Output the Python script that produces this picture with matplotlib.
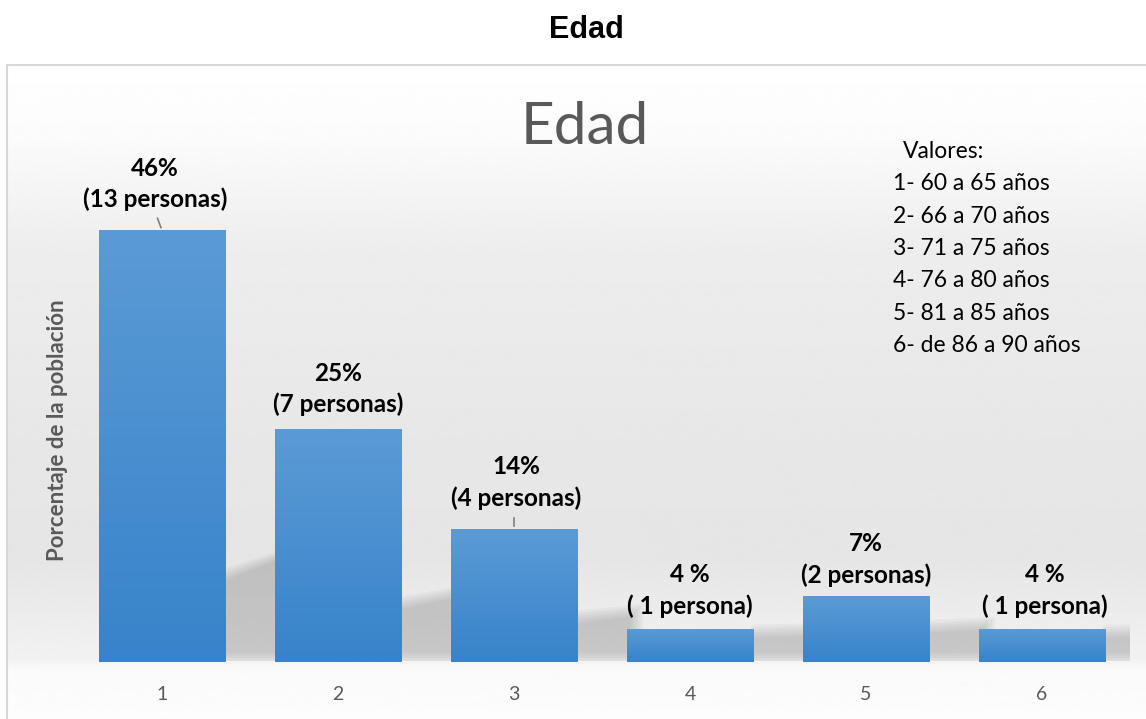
#!/usr/bin/env python3

import numpy as np
import matplotlib
matplotlib.use('Agg')
import matplotlib.pyplot as plt
from matplotlib.colors import LinearSegmentedColormap
from matplotlib.patches import Rectangle

categories = ['1', '2', '3', '4', '5', '6']
porcentaje = [46.4, 25.0, 14.3, 3.6, 7.1, 3.6]
etiquetas = ['46%\n(13 personas)', '25%\n(7 personas)', '14%\n(4 personas)',
             '4 %\n( 1 persona)', '7%\n(2 personas)', '4 %\n( 1 persona)']
valores = ['Valores:', '1- 60 a 65 años', '2- 66 a 70 años', '3- 71 a 75 años',
           '4- 76 a 80 años', '5- 81 a 85 años', '6- de 86 a 90 años']

W, H = 1146, 719
plt.rcParams['font.family'] = ['Lato', 'DejaVu Sans']

fig = plt.figure(figsize=(W / 100, H / 100), dpi=100)
fig.patch.set_facecolor('white')

# background panel with soft vertical gradient
bg = fig.add_axes([7 / W, 0, 1 - 7 / W, 1 - 65 / H])
bg.set_axis_off()
ys = np.linspace(65, 719, 600)
stops_y = [65, 140, 250, 450, 560, 630, 660, 668, 719]
stops_v = [1.0, 0.985, 0.93, 0.905, 0.9, 0.935, 0.95, 0.98, 0.99]
shade = np.interp(ys, stops_y, stops_v)
bg.imshow(shade[:, None], cmap='gray', vmin=0, vmax=1, aspect='auto',
          extent=[0, 1, 0, 1], interpolation='bicubic')
bg.set_xlim(0, 1)
bg.set_ylim(0, 1)
fig.patches.append(Rectangle((7 / W, -0.01), 1.0, 1 - 65 / H + 0.01,
                             transform=fig.transFigure, fill=False,
                             edgecolor='#d9d9d9', linewidth=1.5))

ax = fig.add_axes([74 / W, 1 - 662 / H, 1056 / W, 465 / H])
ax.patch.set_alpha(0)
x = np.arange(1, len(categories) + 1)
bars = ax.bar(x, porcentaje, width=0.716, color='#4a8fd2', zorder=2)

# soft shadows behind the bars, rising to the right
px_x = 1 / 176.0   # data units per pixel (x)
px_y = 1 / 9.3     # data units per pixel (y)
for b in bars:
    xr = b.get_x() + b.get_width()
    h_px = b.get_height() / px_y
    hs = 20 + 0.14 * h_px
    rise = 0.05 * h_px
    L = 55
    for k in range(6):
        e = (5 - k) * 2.5
        xs = np.array([xr, xr, xr + (L + e) * px_x, xr + (L + e) * px_x])
        yv = np.array([max(9 - e, 1), hs + e, hs + rise + e, max(9 - e, 1)]) * px_y
        ax.fill(xs - 0.01, yv, color='#808080', alpha=0.07, lw=0, zorder=1)

cmap = LinearSegmentedColormap.from_list('barra', ['#3883cb', '#5b9bd5'])
grad = np.linspace(0, 1, 100)[:, None]
for b in bars:
    im = ax.imshow(grad, cmap=cmap, aspect='auto', origin='lower',
                   extent=[b.get_x(), b.get_x() + b.get_width(), 0, b.get_height()],
                   zorder=3)
    im.set_clip_path(b)

# data labels (pixel offsets from bar top)
dx = [-7, 0, 2, 0, 0, 3]
dy = [19, 13, 19, 11, 9, 11]
for xi, v, lab, ox, oy in zip(x, porcentaje, etiquetas, dx, dy):
    ax.annotate(lab, (xi, v), xytext=(ox * 0.72, oy * 0.72), textcoords='offset points',
                ha='center', va='bottom', fontsize=17.5, fontweight='bold',
                linespacing=1.42, color='black', zorder=5)
# leader lines
ax.annotate('', (1, porcentaje[0]), xytext=(-5.5 * 0.72, 15 * 0.72), textcoords='offset points',
            arrowprops=dict(arrowstyle='-', color='#7f7f7f', lw=1.2))
ax.annotate('', (3, porcentaje[2]), xytext=(0, 14 * 0.72), textcoords='offset points',
            arrowprops=dict(arrowstyle='-', color='#7f7f7f', lw=1.2))

ax.set_xlim(0.5, 6.5)
ax.set_ylim(0, 50)
ax.set_xticks(x)
ax.set_xticklabels(categories)
ax.set_yticks([])
ax.tick_params(axis='x', length=0, pad=17, labelsize=14, labelcolor='#595959')
for s in ax.spines.values():
    s.set_visible(False)

fig.text(586 / W, 1 - 30 / H, 'Edad', ha='center', va='center', fontsize=22,
         fontweight='bold', family='Liberation Sans')
fig.text(585 / W, 1 - 128 / H, 'Edad', ha='center', va='center', fontsize=42,
         fontweight='normal', color='#595959')
fig.text(57 / W, 1 - 430 / H, 'Porcentaje de la población', ha='center', va='center',
         rotation=90, fontsize=16, fontweight='bold', color='#595959')

for i, t in enumerate(valores):
    xx = 903 if i == 0 else 893
    fig.text(xx / W, 1 - (151 + 32.5 * i) / H, t, ha='left', va='center',
             fontsize=16.5, color='black')

plt.savefig('out.png', dpi=100)
